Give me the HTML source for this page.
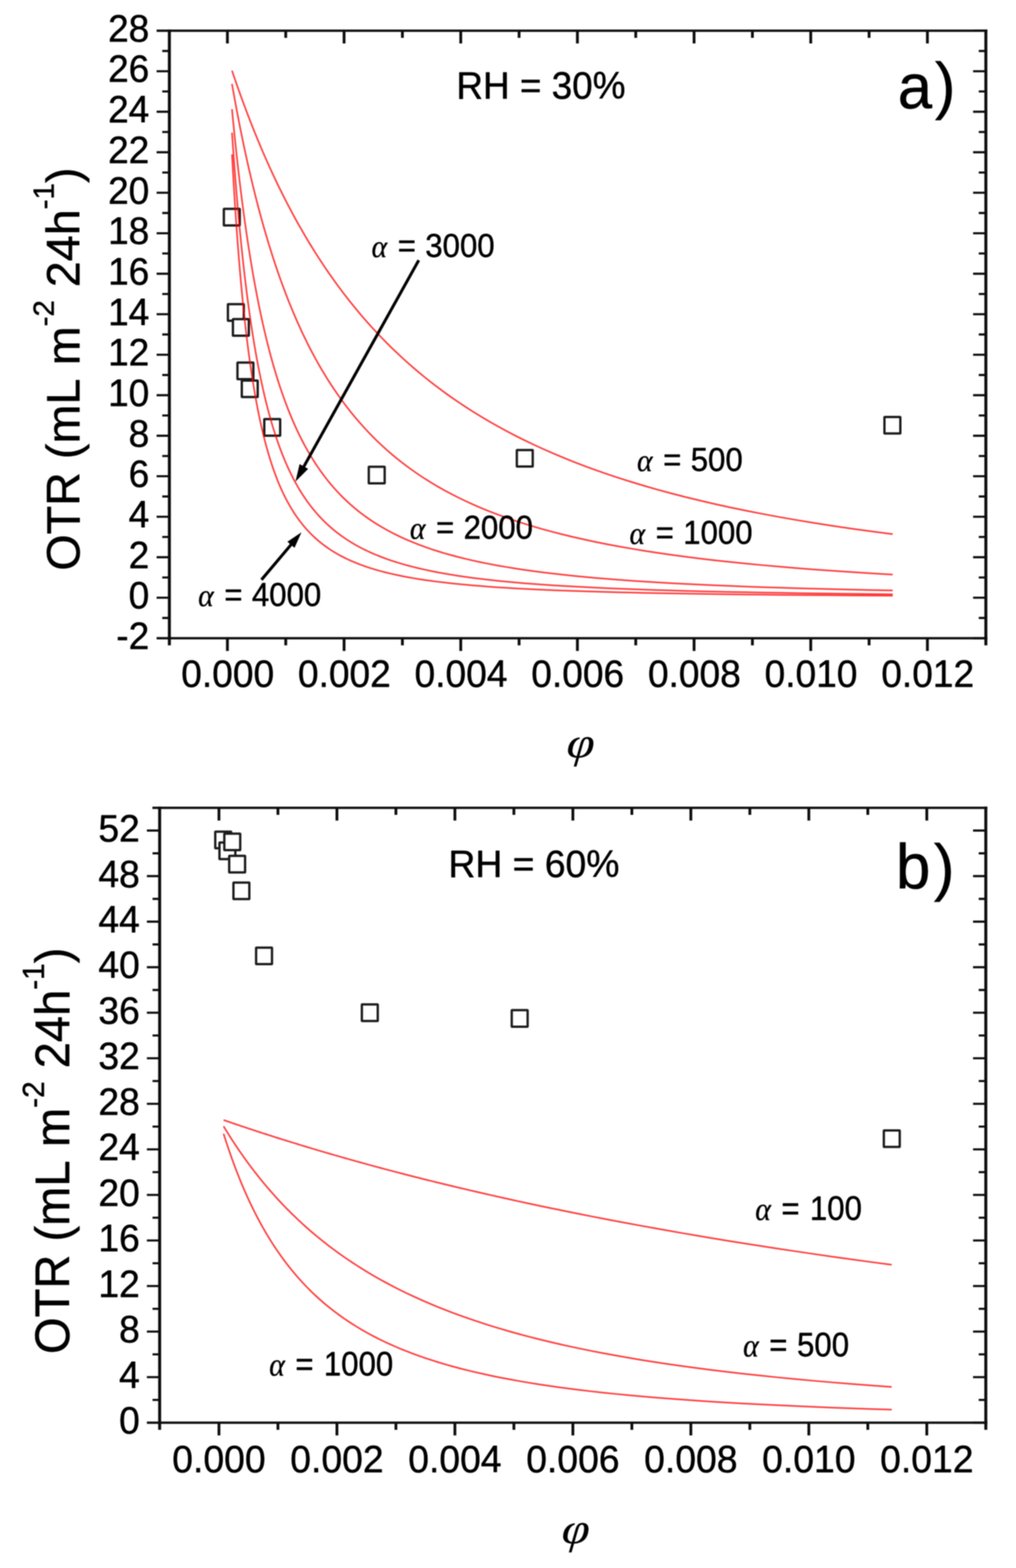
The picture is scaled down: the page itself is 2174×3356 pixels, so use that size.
<!DOCTYPE html>
<html lang="en"><head><meta charset="utf-8"><title>OTR vs filler volume fraction</title>
<style>
html,body{margin:0;padding:0;background:#fff}
body{width:2174px;height:3356px;overflow:hidden}
svg{display:block;filter:blur(1.0px)}
text{font-family:"Liberation Sans",sans-serif;fill:#000;stroke:#000;stroke-width:0.9px;stroke-linejoin:round}
.al{font-family:"Liberation Serif","DejaVu Serif",serif;font-style:italic;stroke-width:0.6px}
.phi{font-family:"Liberation Serif","DejaVu Serif",serif;font-style:italic;font-size:100px;text-anchor:middle;stroke-width:0.3px}
</style></head><body>
<svg width="2174" height="3356" viewBox="0 0 2174 3356">
<rect width="100%" height="100%" fill="#fff"/>
<g fill="#fff" stroke="#1c1c1c" stroke-width="5.0">
<rect x="479" y="447" width="34.0" height="35.4" rx="1"/>
<rect x="487.7" y="651" width="34.0" height="35.4" rx="1"/>
<rect x="498.4" y="683.1" width="34.0" height="35.4" rx="1"/>
<rect x="508.1" y="776" width="34.0" height="35.4" rx="1"/>
<rect x="517.4" y="814.4" width="34.0" height="35.4" rx="1"/>
<rect x="565.5" y="897.1" width="34.0" height="35.4" rx="1"/>
<rect x="789.1" y="999" width="34.0" height="35.4" rx="1"/>
<rect x="1105.9" y="963.2" width="34.0" height="35.4" rx="1"/>
<rect x="1892.5" y="892.4" width="34.0" height="35.4" rx="1"/>
<rect x="460.6" y="1780" width="34.0" height="35.4" rx="1"/>
<rect x="469.6" y="1803.3" width="34.0" height="35.4" rx="1"/>
<rect x="480" y="1784.2" width="34.0" height="35.4" rx="1"/>
<rect x="490.4" y="1831.8" width="34.0" height="35.4" rx="1"/>
<rect x="499.5" y="1888.9" width="34.0" height="35.4" rx="1"/>
<rect x="548" y="2028.2" width="34.0" height="35.4" rx="1"/>
<rect x="774.3" y="2149.8" width="34.0" height="35.4" rx="1"/>
<rect x="1095" y="2162.1" width="34.0" height="35.4" rx="1"/>
<rect x="1891.2" y="2419.4" width="34.0" height="35.4" rx="1"/>
</g>
<g fill="none" stroke="#ff0000" stroke-opacity="0.76" stroke-width="3.5" stroke-linejoin="round" style="filter:blur(0.6px)">
<polyline points="496.4,151.08 496.71,152 497.03,152.96 497.36,153.94 497.7,154.95 498.05,155.99 498.41,157.06 498.78,158.16 499.17,159.3 499.57,160.47 499.97,161.68 500.4,162.92 500.83,164.2 501.28,165.52 501.75,166.87 502.23,168.27 502.72,169.71 503.23,171.19 503.76,172.71 504.3,174.28 504.86,175.9 505.43,177.56 506.03,179.27 506.64,181.04 507.28,182.85 507.93,184.71 508.6,186.63 509.3,188.61 510.02,190.64 510.76,192.73 511.52,194.88 512.31,197.09 513.12,199.36 513.96,201.7 514.82,204.11 515.72,206.58 516.64,209.12 517.59,211.73 518.57,214.42 519.58,217.18 520.62,220.01 521.69,222.92 522.8,225.91 523.95,228.99 525.13,232.14 526.34,235.39 527.6,238.71 528.9,242.13 530.23,245.64 531.61,249.24 533.04,252.93 534.5,256.72 536.02,260.61 537.58,264.59 539.19,268.68 540.85,272.88 542.57,277.17 544.34,281.58 546.16,286.09 548.04,290.71 549.99,295.45 551.99,300.3 554.06,305.27 556.19,310.35 558.39,315.56 560.66,320.88 563,326.33 565.41,331.9 567.9,337.59 570.47,343.41 573.12,349.36 575.86,355.44 578.68,361.65 581.59,367.99 584.59,374.46 587.69,381.07 590.88,387.8 594.18,394.68 597.58,401.68 601.09,408.82 604.7,416.1 608.44,423.51 612.29,431.05 616.26,438.74 620.36,446.55 624.59,454.5 628.95,462.58 633.45,470.79 638.09,479.14 642.88,487.61 647.82,496.21 652.91,504.94 658.17,513.79 663.59,522.76 669.18,531.85 674.95,541.06 680.91,550.39 687.05,559.82 693.38,569.37 699.92,579.02 706.66,588.76 713.62,598.61 720.79,608.55 728.19,618.58 735.83,628.69 743.71,638.88 751.83,649.14 760.22,659.47 768.86,669.87 777.79,680.32 786.99,690.82 796.48,701.38 806.28,711.97 816.38,722.59 826.8,733.24 837.56,743.91 848.65,754.6 860.09,765.29 871.9,775.98 884.07,786.66 896.64,797.34 909.6,807.99 922.97,818.61 936.76,829.2 950.99,839.74 965.66,850.24 980.8,860.68 996.42,871.05 1012.54,881.36 1029.16,891.59 1046.31,901.74 1064,911.8 1082.25,921.76 1101.07,931.62 1120.5,941.37 1140.53,951 1161.2,960.52 1182.52,969.91 1204.52,979.18 1227.21,988.3 1250.61,997.29 1274.76,1006.14 1299.67,1014.84 1325.37,1023.38 1351.88,1031.77 1379.23,1040 1407.44,1048.08 1436.55,1055.98 1466.57,1063.73 1497.54,1071.3 1529.49,1078.7 1562.46,1085.94 1596.46,1093 1631.54,1099.89 1667.73,1106.6 1705.06,1113.15 1743.57,1119.52 1783.29,1125.71 1824.28,1131.74 1866.56,1137.59 1910.17,1143.27"/>
<polyline points="496.4,179.67 496.71,181.44 497.03,183.27 497.36,185.14 497.7,187.07 498.05,189.06 498.41,191.11 498.78,193.21 499.17,195.37 499.57,197.6 499.97,199.89 500.4,202.24 500.83,204.66 501.28,207.15 501.75,209.7 502.23,212.33 502.72,215.03 503.23,217.81 503.76,220.66 504.3,223.59 504.86,226.6 505.43,229.69 506.03,232.87 506.64,236.13 507.28,239.47 507.93,242.91 508.6,246.44 509.3,250.06 510.02,253.77 510.76,257.58 511.52,261.49 512.31,265.5 513.12,269.61 513.96,273.83 514.82,278.15 515.72,282.58 516.64,287.12 517.59,291.76 518.57,296.52 519.58,301.4 520.62,306.39 521.69,311.5 522.8,316.73 523.95,322.08 525.13,327.56 526.34,333.15 527.6,338.88 528.9,344.72 530.23,350.7 531.61,356.81 533.04,363.04 534.5,369.41 536.02,375.91 537.58,382.54 539.19,389.31 540.85,396.21 542.57,403.24 544.34,410.41 546.16,417.72 548.04,425.15 549.99,432.73 551.99,440.44 554.06,448.28 556.19,456.25 558.39,464.36 560.66,472.6 563,480.97 565.41,489.47 567.9,498.09 570.47,506.84 573.12,515.72 575.86,524.71 578.68,533.83 581.59,543.06 584.59,552.41 587.69,561.86 590.88,571.42 594.18,581.09 597.58,590.86 601.09,600.72 604.7,610.67 608.44,620.71 612.29,630.83 616.26,641.03 620.36,651.31 624.59,661.65 628.95,672.05 633.45,682.51 638.09,693.02 642.88,703.57 647.82,714.16 652.91,724.78 658.17,735.43 663.59,746.1 669.18,756.78 674.95,767.46 680.91,778.14 687.05,788.82 693.38,799.48 699.92,810.11 706.66,820.72 713.62,831.29 720.79,841.82 728.19,852.29 735.83,862.71 743.71,873.06 751.83,883.34 760.22,893.55 768.86,903.67 777.79,913.7 786.99,923.63 796.48,933.45 806.28,943.17 816.38,952.77 826.8,962.26 837.56,971.61 848.65,980.84 860.09,989.93 871.9,998.88 884.07,1007.68 896.64,1016.34 909.6,1024.84 922.97,1033.19 936.76,1041.38 950.99,1049.41 965.66,1057.28 980.8,1064.98 996.42,1072.51 1012.54,1079.87 1029.16,1087.06 1046.31,1094.08 1064,1100.93 1082.25,1107.6 1101.07,1114.1 1120.5,1120.43 1140.53,1126.58 1161.2,1132.57 1182.52,1138.38 1204.52,1144.02 1227.21,1149.5 1250.61,1154.8 1274.76,1159.95 1299.67,1164.92 1325.37,1169.74 1351.88,1174.4 1379.23,1178.9 1407.44,1183.25 1436.55,1187.45 1466.57,1191.5 1497.54,1195.4 1529.49,1199.16 1562.46,1202.79 1596.46,1206.27 1631.54,1209.63 1667.73,1212.85 1705.06,1215.95 1743.57,1218.92 1783.29,1221.78 1824.28,1224.52 1866.56,1227.15 1910.17,1229.67"/>
<polyline points="496.4,233.67 496.71,236.96 497.03,240.33 497.36,243.78 497.7,247.33 498.05,250.98 498.41,254.72 498.78,258.55 499.17,262.49 499.57,266.52 499.97,270.66 500.4,274.9 500.83,279.24 501.28,283.7 501.75,288.26 502.23,292.94 502.72,297.73 503.23,302.63 503.76,307.66 504.3,312.79 504.86,318.05 505.43,323.43 506.03,328.94 506.64,334.57 507.28,340.32 507.93,346.2 508.6,352.21 509.3,358.35 510.02,364.61 510.76,371.01 511.52,377.55 512.31,384.21 513.12,391.01 513.96,397.94 514.82,405.01 515.72,412.21 516.64,419.55 517.59,427.02 518.57,434.62 519.58,442.36 520.62,450.24 521.69,458.24 522.8,466.38 523.95,474.65 525.13,483.05 526.34,491.58 527.6,500.24 528.9,509.02 530.23,517.92 531.61,526.94 533.04,536.09 534.5,545.34 536.02,554.71 537.58,564.19 539.19,573.78 540.85,583.47 542.57,593.26 544.34,603.14 546.16,613.11 548.04,623.17 549.99,633.31 551.99,643.52 554.06,653.81 556.19,664.16 558.39,674.58 560.66,685.04 563,695.56 565.41,706.12 567.9,716.72 570.47,727.34 573.12,737.99 575.86,748.66 578.68,759.34 581.59,770.02 584.59,780.69 587.69,791.36 590.88,802.01 594.18,812.64 597.58,823.23 601.09,833.79 604.7,844.3 608.44,854.75 612.29,865.15 616.26,875.48 620.36,885.74 624.59,895.92 628.95,906.01 633.45,916.01 638.09,925.92 642.88,935.71 647.82,945.4 652.91,954.97 658.17,964.41 663.59,973.73 669.18,982.92 674.95,991.97 680.91,1000.88 687.05,1009.65 693.38,1018.26 699.92,1026.73 706.66,1035.03 713.62,1043.18 720.79,1051.17 728.19,1058.99 735.83,1066.64 743.71,1074.13 751.83,1081.45 760.22,1088.59 768.86,1095.57 777.79,1102.37 786.99,1109 796.48,1115.45 806.28,1121.74 816.38,1127.85 826.8,1133.79 837.56,1139.56 848.65,1145.16 860.09,1150.59 871.9,1155.86 884.07,1160.96 896.64,1165.89 909.6,1170.67 922.97,1175.29 936.76,1179.76 950.99,1184.07 965.66,1188.23 980.8,1192.24 996.42,1196.11 1012.54,1199.84 1029.16,1203.43 1046.31,1206.88 1064,1210.21 1082.25,1213.4 1101.07,1216.47 1120.5,1219.42 1140.53,1222.25 1161.2,1224.96 1182.52,1227.56 1204.52,1230.06 1227.21,1232.44 1250.61,1234.73 1274.76,1236.92 1299.67,1239.01 1325.37,1241.02 1351.88,1242.93 1379.23,1244.76 1407.44,1246.5 1436.55,1248.17 1466.57,1249.76 1497.54,1251.27 1529.49,1252.72 1562.46,1254.09 1596.46,1255.41 1631.54,1256.65 1667.73,1257.84 1705.06,1258.98 1743.57,1260.05 1783.29,1261.08 1824.28,1262.05 1866.56,1262.97 1910.17,1263.85"/>
<polyline points="496.4,283.8 496.71,288.36 497.03,293.04 497.36,297.84 497.7,302.74 498.05,307.77 498.41,312.91 498.78,318.17 499.17,323.55 499.57,329.06 499.97,334.69 500.4,340.44 500.83,346.33 501.28,352.34 501.75,358.48 502.23,364.75 502.72,371.15 503.23,377.69 503.76,384.35 504.3,391.15 504.86,398.09 505.43,405.16 506.03,412.36 506.64,419.7 507.28,427.17 507.93,434.78 508.6,442.53 509.3,450.4 510.02,458.41 510.76,466.55 511.52,474.82 512.31,483.23 513.12,491.76 513.96,500.41 514.82,509.2 515.72,518.1 516.64,527.13 517.59,536.27 518.57,545.53 519.58,554.9 520.62,564.39 521.69,573.97 522.8,583.66 523.95,593.45 525.13,603.34 526.34,613.31 527.6,623.37 528.9,633.51 530.23,643.72 531.61,654.01 533.04,664.36 534.5,674.78 536.02,685.25 537.58,695.76 539.19,706.32 540.85,716.92 542.57,727.54 544.34,738.19 546.16,748.86 548.04,759.53 549.99,770.21 551.99,780.89 554.06,791.55 556.19,802.2 558.39,812.82 560.66,823.42 563,833.97 565.41,844.48 567.9,854.93 570.47,865.33 573.12,875.66 575.86,885.91 578.68,896.09 581.59,906.18 584.59,916.17 587.69,926.07 590.88,935.86 594.18,945.55 597.58,955.11 601.09,964.55 604.7,973.87 608.44,983.05 612.29,992.1 616.26,1001.01 620.36,1009.77 624.59,1018.38 628.95,1026.84 633.45,1035.14 638.09,1043.28 642.88,1051.26 647.82,1059.08 652.91,1066.73 658.17,1074.21 663.59,1081.53 669.18,1088.67 674.95,1095.64 680.91,1102.44 687.05,1109.06 693.38,1115.51 699.92,1121.79 706.66,1127.9 713.62,1133.83 720.79,1139.6 728.19,1145.2 735.83,1150.62 743.71,1155.89 751.83,1160.98 760.22,1165.92 768.86,1170.69 777.79,1175.31 786.99,1179.77 796.48,1184.08 806.28,1188.24 816.38,1192.25 826.8,1196.11 837.56,1199.84 848.65,1203.43 860.09,1206.88 871.9,1210.2 884.07,1213.39 896.64,1216.46 909.6,1219.4 922.97,1222.23 936.76,1224.94 950.99,1227.54 965.66,1230.03 980.8,1232.42 996.42,1234.71 1012.54,1236.9 1029.16,1238.99 1046.31,1240.99 1064,1242.9 1082.25,1244.73 1101.07,1246.47 1120.5,1248.14 1140.53,1249.73 1161.2,1251.24 1182.52,1252.68 1204.52,1254.06 1227.21,1255.37 1250.61,1256.62 1274.76,1257.81 1299.67,1258.94 1325.37,1260.02 1351.88,1261.04 1379.23,1262.02 1407.44,1262.94 1436.55,1263.82 1466.57,1264.65 1497.54,1265.45 1529.49,1266.2 1562.46,1266.91 1596.46,1267.59 1631.54,1268.23 1667.73,1268.84 1705.06,1269.42 1743.57,1269.97 1783.29,1270.48 1824.28,1270.98 1866.56,1271.44 1910.17,1271.88"/>
<polyline points="496.4,330.4 496.71,336.06 497.03,341.85 497.36,347.76 497.7,353.8 498.05,359.98 498.41,366.28 498.78,372.71 499.17,379.28 499.57,385.98 499.97,392.81 500.4,399.78 500.83,406.88 501.28,414.12 501.75,421.49 502.23,428.99 502.72,436.63 503.23,444.41 503.76,452.32 504.3,460.36 504.86,468.53 505.43,476.83 506.03,485.27 506.64,493.83 507.28,502.51 507.93,511.33 508.6,520.26 509.3,529.31 510.02,538.49 510.76,547.77 511.52,557.17 512.31,566.68 513.12,576.29 513.96,586 514.82,595.82 515.72,605.72 516.64,615.71 517.59,625.79 518.57,635.95 519.58,646.18 520.62,656.49 521.69,666.86 522.8,677.28 523.95,687.76 525.13,698.29 526.34,708.86 527.6,719.46 528.9,730.09 530.23,740.74 531.61,751.41 533.04,762.09 534.5,772.77 536.02,783.44 537.58,794.1 539.19,804.74 540.85,815.36 542.57,825.94 544.34,836.48 546.16,846.98 548.04,857.42 549.99,867.8 551.99,878.11 554.06,888.34 556.19,898.5 558.39,908.57 560.66,918.54 563,928.41 565.41,938.18 567.9,947.83 570.47,957.37 573.12,966.78 575.86,976.06 578.68,985.21 581.59,994.23 584.59,1003.1 587.69,1011.82 590.88,1020.4 594.18,1028.82 597.58,1037.08 601.09,1045.18 604.7,1053.12 608.44,1060.9 612.29,1068.51 616.26,1075.95 620.36,1083.22 624.59,1090.32 628.95,1097.25 633.45,1104.01 638.09,1110.59 642.88,1117 647.82,1123.24 652.91,1129.3 658.17,1135.2 663.59,1140.92 669.18,1146.48 674.95,1151.86 680.91,1157.09 687.05,1162.14 693.38,1167.04 699.92,1171.78 706.66,1176.36 713.62,1180.78 720.79,1185.05 728.19,1189.17 735.83,1193.15 743.71,1196.98 751.83,1200.68 760.22,1204.23 768.86,1207.65 777.79,1210.94 786.99,1214.1 796.48,1217.14 806.28,1220.06 816.38,1222.86 826.8,1225.54 837.56,1228.12 848.65,1230.58 860.09,1232.95 871.9,1235.21 884.07,1237.37 896.64,1239.44 909.6,1241.42 922.97,1243.31 936.76,1245.12 950.99,1246.85 965.66,1248.49 980.8,1250.06 996.42,1251.56 1012.54,1252.99 1029.16,1254.35 1046.31,1255.65 1064,1256.88 1082.25,1258.06 1101.07,1259.18 1120.5,1260.24 1140.53,1261.25 1161.2,1262.22 1182.52,1263.13 1204.52,1264 1227.21,1264.82 1250.61,1265.61 1274.76,1266.35 1299.67,1267.06 1325.37,1267.72 1351.88,1268.36 1379.23,1268.96 1407.44,1269.53 1436.55,1270.07 1466.57,1270.58 1497.54,1271.07 1529.49,1271.53 1562.46,1271.96 1596.46,1272.38 1631.54,1272.76 1667.73,1273.13 1705.06,1273.48 1743.57,1273.81 1783.29,1274.12 1824.28,1274.42 1866.56,1274.7 1910.17,1274.96"/>
<polyline points="478.41,2397.2 478.72,2397.31 479.04,2397.42 479.38,2397.53 479.72,2397.65 480.08,2397.78 480.44,2397.9 480.82,2398.03 481.21,2398.17 481.61,2398.31 482.02,2398.45 482.45,2398.6 482.89,2398.75 483.35,2398.91 483.82,2399.07 484.3,2399.24 484.8,2399.41 485.32,2399.59 485.85,2399.77 486.4,2399.96 486.96,2400.15 487.55,2400.35 488.15,2400.56 488.77,2400.77 489.41,2400.99 490.07,2401.22 490.75,2401.45 491.45,2401.7 492.18,2401.94 492.93,2402.2 493.7,2402.46 494.5,2402.74 495.32,2403.02 496.17,2403.31 497.04,2403.61 497.94,2403.91 498.87,2404.23 499.83,2404.56 500.82,2404.9 501.85,2405.24 502.9,2405.6 503.99,2405.97 505.11,2406.35 506.27,2406.74 507.46,2407.15 508.69,2407.56 509.96,2407.99 511.27,2408.44 512.62,2408.89 514.02,2409.36 515.46,2409.85 516.94,2410.34 518.47,2410.86 520.05,2411.39 521.68,2411.93 523.36,2412.5 525.09,2413.08 526.88,2413.67 528.73,2414.29 530.63,2414.92 532.6,2415.57 534.62,2416.25 536.71,2416.94 538.87,2417.65 541.09,2418.38 543.39,2419.14 545.75,2419.92 548.19,2420.72 550.71,2421.54 553.31,2422.39 555.99,2423.27 558.76,2424.17 561.61,2425.1 564.55,2426.05 567.59,2427.03 570.72,2428.04 573.95,2429.08 577.28,2430.15 580.72,2431.25 584.27,2432.38 587.93,2433.55 591.7,2434.75 595.6,2435.98 599.62,2437.25 603.76,2438.55 608.03,2439.89 612.44,2441.27 616.99,2442.69 621.69,2444.14 626.53,2445.64 631.52,2447.18 636.68,2448.76 641.99,2450.38 647.47,2452.05 653.13,2453.77 658.97,2455.53 664.99,2457.34 671.2,2459.19 677.6,2461.1 684.21,2463.06 691.03,2465.07 698.06,2467.13 705.32,2469.24 712.8,2471.41 720.53,2473.64 728.49,2475.92 736.71,2478.27 745.19,2480.67 753.93,2483.13 762.95,2485.65 772.26,2488.23 781.86,2490.88 791.76,2493.59 801.98,2496.36 812.52,2499.21 823.39,2502.12 834.61,2505.09 846.18,2508.14 858.12,2511.25 870.43,2514.44 883.14,2517.7 896.24,2521.02 909.76,2524.43 923.71,2527.9 938.09,2531.45 952.94,2535.07 968.25,2538.77 984.04,2542.54 1000.34,2546.39 1017.15,2550.32 1034.49,2554.32 1052.38,2558.4 1070.83,2562.55 1089.87,2566.78 1109.51,2571.09 1129.77,2575.47 1150.67,2579.93 1172.23,2584.47 1194.47,2589.08 1217.41,2593.76 1241.08,2598.52 1265.5,2603.35 1290.69,2608.25 1316.68,2613.22 1343.49,2618.27 1371.14,2623.38 1399.67,2628.56 1429.1,2633.8 1459.46,2639.11 1490.78,2644.48 1523.09,2649.91 1556.42,2655.4 1590.81,2660.94 1626.28,2666.54 1662.87,2672.19 1700.62,2677.89 1739.57,2683.63 1779.74,2689.42 1821.18,2695.25 1863.93,2701.11 1908.04,2707.01"/>
<polyline points="478.41,2410.52 478.72,2411.03 479.04,2411.57 479.38,2412.12 479.72,2412.69 480.08,2413.27 480.44,2413.88 480.82,2414.5 481.21,2415.14 481.61,2415.8 482.02,2416.47 482.45,2417.17 482.89,2417.89 483.35,2418.63 483.82,2419.4 484.3,2420.18 484.8,2420.99 485.32,2421.82 485.85,2422.68 486.4,2423.56 486.96,2424.47 487.55,2425.41 488.15,2426.37 488.77,2427.36 489.41,2428.38 490.07,2429.43 490.75,2430.51 491.45,2431.62 492.18,2432.76 492.93,2433.94 493.7,2435.15 494.5,2436.39 495.32,2437.67 496.17,2438.98 497.04,2440.34 497.94,2441.73 498.87,2443.15 499.83,2444.62 500.82,2446.13 501.85,2447.68 502.9,2449.28 503.99,2450.92 505.11,2452.6 506.27,2454.33 507.46,2456.1 508.69,2457.93 509.96,2459.8 511.27,2461.72 512.62,2463.69 514.02,2465.72 515.46,2467.79 516.94,2469.92 518.47,2472.11 520.05,2474.35 521.68,2476.65 523.36,2479.01 525.09,2481.43 526.88,2483.9 528.73,2486.44 530.63,2489.04 532.6,2491.7 534.62,2494.43 536.71,2497.23 538.87,2500.08 541.09,2503.01 543.39,2506.01 545.75,2509.07 548.19,2512.2 550.71,2515.4 553.31,2518.68 555.99,2522.02 558.76,2525.44 561.61,2528.93 564.55,2532.5 567.59,2536.14 570.72,2539.85 573.95,2543.64 577.28,2547.5 580.72,2551.44 584.27,2555.46 587.93,2559.55 591.7,2563.72 595.6,2567.96 599.62,2572.28 603.76,2576.68 608.03,2581.15 612.44,2585.69 616.99,2590.31 621.69,2595 626.53,2599.77 631.52,2604.6 636.68,2609.51 641.99,2614.49 647.47,2619.54 653.13,2624.65 658.97,2629.83 664.99,2635.07 671.2,2640.38 677.6,2645.75 684.21,2651.17 691.03,2656.65 698.06,2662.19 705.32,2667.78 712.8,2673.42 720.53,2679.1 728.49,2684.84 736.71,2690.61 745.19,2696.42 753.93,2702.26 762.95,2708.14 772.26,2714.05 781.86,2719.98 791.76,2725.94 801.98,2731.91 812.52,2737.9 823.39,2743.9 834.61,2749.91 846.18,2755.93 858.12,2761.94 870.43,2767.95 883.14,2773.95 896.24,2779.94 909.76,2785.91 923.71,2791.86 938.09,2797.8 952.94,2803.7 968.25,2809.57 984.04,2815.4 1000.34,2821.2 1017.15,2826.95 1034.49,2832.66 1052.38,2838.32 1070.83,2843.92 1089.87,2849.46 1109.51,2854.95 1129.77,2860.37 1150.67,2865.72 1172.23,2871 1194.47,2876.21 1217.41,2881.34 1241.08,2886.4 1265.5,2891.37 1290.69,2896.26 1316.68,2901.07 1343.49,2905.79 1371.14,2910.42 1399.67,2914.96 1429.1,2919.4 1459.46,2923.76 1490.78,2928.02 1523.09,2932.18 1556.42,2936.25 1590.81,2940.22 1626.28,2944.09 1662.87,2947.87 1700.62,2951.55 1739.57,2955.13 1779.74,2958.62 1821.18,2962 1863.93,2965.29 1908.04,2968.49"/>
<polyline points="478.41,2426.59 478.72,2427.59 479.04,2428.61 479.38,2429.67 479.72,2430.76 480.08,2431.87 480.44,2433.02 480.82,2434.21 481.21,2435.42 481.61,2436.68 482.02,2437.96 482.45,2439.29 482.89,2440.65 483.35,2442.04 483.82,2443.48 484.3,2444.96 484.8,2446.48 485.32,2448.04 485.85,2449.64 486.4,2451.29 486.96,2452.98 487.55,2454.72 488.15,2456.51 488.77,2458.34 489.41,2460.22 490.07,2462.16 490.75,2464.14 491.45,2466.18 492.18,2468.27 492.93,2470.41 493.7,2472.61 494.5,2474.86 495.32,2477.17 496.17,2479.54 497.04,2481.97 497.94,2484.46 498.87,2487.02 499.83,2489.63 500.82,2492.31 501.85,2495.05 502.9,2497.86 503.99,2500.73 505.11,2503.67 506.27,2506.68 507.46,2509.76 508.69,2512.91 509.96,2516.12 511.27,2519.41 512.62,2522.78 514.02,2526.21 515.46,2529.72 516.94,2533.3 518.47,2536.95 520.05,2540.68 521.68,2544.49 523.36,2548.37 525.09,2552.32 526.88,2556.35 528.73,2560.46 530.63,2564.65 532.6,2568.9 534.62,2573.24 536.71,2577.65 538.87,2582.13 541.09,2586.69 543.39,2591.33 545.75,2596.03 548.19,2600.81 550.71,2605.66 553.31,2610.58 555.99,2615.58 558.76,2620.63 561.61,2625.76 564.55,2630.95 567.59,2636.21 570.72,2641.52 573.95,2646.9 577.28,2652.34 580.72,2657.83 584.27,2663.38 587.93,2668.97 591.7,2674.62 595.6,2680.31 599.62,2686.05 603.76,2691.83 608.03,2697.64 612.44,2703.49 616.99,2709.37 621.69,2715.28 626.53,2721.22 631.52,2727.17 636.68,2733.15 641.99,2739.13 647.47,2745.13 653.13,2751.14 658.97,2757.15 664.99,2763.15 671.2,2769.16 677.6,2775.15 684.21,2781.13 691.03,2787.1 698.06,2793.04 705.32,2798.96 712.8,2804.85 720.53,2810.71 728.49,2816.53 736.71,2822.32 745.19,2828.05 753.93,2833.75 762.95,2839.38 772.26,2844.97 781.86,2850.5 791.76,2855.96 801.98,2861.36 812.52,2866.69 823.39,2871.96 834.61,2877.14 846.18,2882.26 858.12,2887.29 870.43,2892.24 883.14,2897.11 896.24,2901.89 909.76,2906.59 923.71,2911.19 938.09,2915.71 952.94,2920.13 968.25,2924.46 984.04,2928.7 1000.34,2932.84 1017.15,2936.88 1034.49,2940.83 1052.38,2944.68 1070.83,2948.43 1089.87,2952.09 1109.51,2955.65 1129.77,2959.11 1150.67,2962.47 1172.23,2965.74 1194.47,2968.91 1217.41,2971.99 1241.08,2974.98 1265.5,2977.87 1290.69,2980.67 1316.68,2983.38 1343.49,2986 1371.14,2988.53 1399.67,2990.97 1429.1,2993.33 1459.46,2995.61 1490.78,2997.81 1523.09,2999.92 1556.42,3001.96 1590.81,3003.92 1626.28,3005.81 1662.87,3007.62 1700.62,3009.36 1739.57,3011.04 1779.74,3012.64 1821.18,3014.18 1863.93,3015.66 1908.04,3017.08"/>
</g>
<g fill="none" stroke="#0d0d0d">
<path d="M335.1 65.8H2112.7M335.1 1366H2112.7" stroke-width="5.0"/>
<path d="M362.4 63.3V1381.2M2109.5 63.3V1381.2" stroke-width="6.4"/>
<path d="M486.6 65.8v27.3M486.6 1366v27.3M736.24 65.8v27.3M736.24 1366v27.3M985.88 65.8v27.3M985.88 1366v27.3M1235.52 65.8v27.3M1235.52 1366v27.3M1485.16 65.8v27.3M1485.16 1366v27.3M1734.8 65.8v27.3M1734.8 1366v27.3M1984.44 65.8v27.3M1984.44 1366v27.3M611.42 65.8v15.2M611.42 1366v15.2M861.06 65.8v15.2M861.06 1366v15.2M1110.7 65.8v15.2M1110.7 1366v15.2M1360.34 65.8v15.2M1360.34 1366v15.2M1609.98 65.8v15.2M1609.98 1366v15.2M1859.62 65.8v15.2M1859.62 1366v15.2" stroke-width="6.0"/>
<path d="M2109.5 1366h-27.3M362.4 1279.32h-27.3M2109.5 1279.32h-27.3M362.4 1192.64h-27.3M2109.5 1192.64h-27.3M362.4 1105.96h-27.3M2109.5 1105.96h-27.3M362.4 1019.28h-27.3M2109.5 1019.28h-27.3M362.4 932.6h-27.3M2109.5 932.6h-27.3M362.4 845.92h-27.3M2109.5 845.92h-27.3M362.4 759.24h-27.3M2109.5 759.24h-27.3M362.4 672.56h-27.3M2109.5 672.56h-27.3M362.4 585.88h-27.3M2109.5 585.88h-27.3M362.4 499.2h-27.3M2109.5 499.2h-27.3M362.4 412.52h-27.3M2109.5 412.52h-27.3M362.4 325.84h-27.3M2109.5 325.84h-27.3M362.4 239.16h-27.3M2109.5 239.16h-27.3M362.4 152.48h-27.3M2109.5 152.48h-27.3M2109.5 65.8h-27.3M362.4 1322.66h-15.2M2109.5 1322.66h-15.2M362.4 1235.98h-15.2M2109.5 1235.98h-15.2M362.4 1149.3h-15.2M2109.5 1149.3h-15.2M362.4 1062.62h-15.2M2109.5 1062.62h-15.2M362.4 975.94h-15.2M2109.5 975.94h-15.2M362.4 889.26h-15.2M2109.5 889.26h-15.2M362.4 802.58h-15.2M2109.5 802.58h-15.2M362.4 715.9h-15.2M2109.5 715.9h-15.2M362.4 629.22h-15.2M2109.5 629.22h-15.2M362.4 542.54h-15.2M2109.5 542.54h-15.2M362.4 455.86h-15.2M2109.5 455.86h-15.2M362.4 369.18h-15.2M2109.5 369.18h-15.2M362.4 282.5h-15.2M2109.5 282.5h-15.2M362.4 195.82h-15.2M2109.5 195.82h-15.2M362.4 109.14h-15.2M2109.5 109.14h-15.2" stroke-width="4.6"/>
<path d="M326.1 1728.9H2112.6M314.3 3045H2112.6" stroke-width="5.0"/>
<path d="M341.6 1726.4V3060.2M2109.4 1726.4V3060.2" stroke-width="6.4"/>
<path d="M468.5 1728.9v27.3M468.5 3045v27.3M720.94 1728.9v27.3M720.94 3045v27.3M973.38 1728.9v27.3M973.38 3045v27.3M1225.82 1728.9v27.3M1225.82 3045v27.3M1478.26 1728.9v27.3M1478.26 3045v27.3M1730.7 1728.9v27.3M1730.7 3045v27.3M1983.14 1728.9v27.3M1983.14 3045v27.3M594.72 1728.9v15.2M594.72 3045v15.2M847.16 1728.9v15.2M847.16 3045v15.2M1099.6 1728.9v15.2M1099.6 3045v15.2M1352.04 1728.9v15.2M1352.04 3045v15.2M1604.48 1728.9v15.2M1604.48 3045v15.2M1856.92 1728.9v15.2M1856.92 3045v15.2" stroke-width="6.0"/>
<path d="M2109.4 3045h-27.3M341.6 2947.51h-27.3M2109.4 2947.51h-27.3M341.6 2850.02h-27.3M2109.4 2850.02h-27.3M341.6 2752.52h-27.3M2109.4 2752.52h-27.3M341.6 2655.03h-27.3M2109.4 2655.03h-27.3M341.6 2557.54h-27.3M2109.4 2557.54h-27.3M341.6 2460.05h-27.3M2109.4 2460.05h-27.3M341.6 2362.56h-27.3M2109.4 2362.56h-27.3M341.6 2265.06h-27.3M2109.4 2265.06h-27.3M341.6 2167.57h-27.3M2109.4 2167.57h-27.3M341.6 2070.08h-27.3M2109.4 2070.08h-27.3M341.6 1972.59h-27.3M2109.4 1972.59h-27.3M341.6 1875.1h-27.3M2109.4 1875.1h-27.3M341.6 1777.6h-27.3M2109.4 1777.6h-27.3M341.6 2996.25h-15.2M2109.4 2996.25h-15.2M341.6 2898.76h-15.2M2109.4 2898.76h-15.2M341.6 2801.27h-15.2M2109.4 2801.27h-15.2M341.6 2703.78h-15.2M2109.4 2703.78h-15.2M341.6 2606.29h-15.2M2109.4 2606.29h-15.2M341.6 2508.79h-15.2M2109.4 2508.79h-15.2M341.6 2411.3h-15.2M2109.4 2411.3h-15.2M341.6 2313.81h-15.2M2109.4 2313.81h-15.2M341.6 2216.32h-15.2M2109.4 2216.32h-15.2M341.6 2118.83h-15.2M2109.4 2118.83h-15.2M341.6 2021.33h-15.2M2109.4 2021.33h-15.2M341.6 1923.84h-15.2M2109.4 1923.84h-15.2M341.6 1826.35h-15.2M2109.4 1826.35h-15.2" stroke-width="4.6"/>
</g>
<g fill="#000" font-size="80">
<text transform="translate(319.5 1389) scale(0.993 1.022)" text-anchor="end">-2</text>
<text transform="translate(319.5 1302.32) scale(0.993 1.022)" text-anchor="end">0</text>
<text transform="translate(319.5 1215.64) scale(0.993 1.022)" text-anchor="end">2</text>
<text transform="translate(319.5 1128.96) scale(0.993 1.022)" text-anchor="end">4</text>
<text transform="translate(319.5 1042.28) scale(0.993 1.022)" text-anchor="end">6</text>
<text transform="translate(319.5 955.6) scale(0.993 1.022)" text-anchor="end">8</text>
<text transform="translate(319.5 868.92) scale(0.993 1.022)" text-anchor="end">10</text>
<text transform="translate(319.5 782.24) scale(0.993 1.022)" text-anchor="end">12</text>
<text transform="translate(319.5 695.56) scale(0.993 1.022)" text-anchor="end">14</text>
<text transform="translate(319.5 608.88) scale(0.993 1.022)" text-anchor="end">16</text>
<text transform="translate(319.5 522.2) scale(0.993 1.022)" text-anchor="end">18</text>
<text transform="translate(319.5 435.52) scale(0.993 1.022)" text-anchor="end">20</text>
<text transform="translate(319.5 348.84) scale(0.993 1.022)" text-anchor="end">22</text>
<text transform="translate(319.5 262.16) scale(0.993 1.022)" text-anchor="end">24</text>
<text transform="translate(319.5 175.48) scale(0.993 1.022)" text-anchor="end">26</text>
<text transform="translate(319.5 88.8) scale(0.993 1.022)" text-anchor="end">28</text>
<text transform="translate(487.2 1470.3) scale(0.993 1.022)" text-anchor="middle">0.000</text>
<text transform="translate(736.84 1470.3) scale(0.993 1.022)" text-anchor="middle">0.002</text>
<text transform="translate(986.48 1470.3) scale(0.993 1.022)" text-anchor="middle">0.004</text>
<text transform="translate(1236.12 1470.3) scale(0.993 1.022)" text-anchor="middle">0.006</text>
<text transform="translate(1485.76 1470.3) scale(0.993 1.022)" text-anchor="middle">0.008</text>
<text transform="translate(1735.4 1470.3) scale(0.993 1.022)" text-anchor="middle">0.010</text>
<text transform="translate(1985.04 1470.3) scale(0.993 1.022)" text-anchor="middle">0.012</text>
<text transform="translate(299.2 3068.4) scale(0.998 1.022)" text-anchor="end">0</text>
<text transform="translate(299.2 2970.91) scale(0.998 1.022)" text-anchor="end">4</text>
<text transform="translate(299.2 2873.42) scale(0.998 1.022)" text-anchor="end">8</text>
<text transform="translate(299.2 2775.92) scale(0.998 1.022)" text-anchor="end">12</text>
<text transform="translate(299.2 2678.43) scale(0.998 1.022)" text-anchor="end">16</text>
<text transform="translate(299.2 2580.94) scale(0.998 1.022)" text-anchor="end">20</text>
<text transform="translate(299.2 2483.45) scale(0.998 1.022)" text-anchor="end">24</text>
<text transform="translate(299.2 2385.96) scale(0.998 1.022)" text-anchor="end">28</text>
<text transform="translate(299.2 2288.46) scale(0.998 1.022)" text-anchor="end">32</text>
<text transform="translate(299.2 2190.97) scale(0.998 1.022)" text-anchor="end">36</text>
<text transform="translate(299.2 2093.48) scale(0.998 1.022)" text-anchor="end">40</text>
<text transform="translate(299.2 1995.99) scale(0.998 1.022)" text-anchor="end">44</text>
<text transform="translate(299.2 1898.5) scale(0.998 1.022)" text-anchor="end">48</text>
<text transform="translate(299.2 1801) scale(0.998 1.022)" text-anchor="end">52</text>
<text transform="translate(468.5 3151) scale(0.998 1.022)" text-anchor="middle">0.000</text>
<text transform="translate(720.94 3151) scale(0.998 1.022)" text-anchor="middle">0.002</text>
<text transform="translate(973.38 3151) scale(0.998 1.022)" text-anchor="middle">0.004</text>
<text transform="translate(1225.82 3151) scale(0.998 1.022)" text-anchor="middle">0.006</text>
<text transform="translate(1478.26 3151) scale(0.998 1.022)" text-anchor="middle">0.008</text>
<text transform="translate(1730.7 3151) scale(0.998 1.022)" text-anchor="middle">0.010</text>
<text transform="translate(1983.14 3151) scale(0.998 1.022)" text-anchor="middle">0.012</text>
<text transform="translate(169.5 1221.5) rotate(-90) scale(1.0 0.995)" font-size="100">OTR (mL <tspan dx="4.5">m</tspan><tspan font-size="63" dy="-55">-2</tspan><tspan dy="55"> 24h</tspan><tspan font-size="63" dy="-55">-1</tspan><tspan dy="55">)</tspan></text>
<text transform="translate(147.5 2898) rotate(-90) scale(1.008 1.03)" font-size="100">OTR (mL <tspan dx="4.5">m</tspan><tspan font-size="63" dy="-52">-2</tspan><tspan dy="52"> 24h</tspan><tspan font-size="63" dy="-52">-1</tspan><tspan dy="52">)</tspan></text>
<text transform="translate(976.5 210.5) scale(0.993 1.022)" font-size="79.5">RH = 30%</text>
<text transform="translate(959.5 1877) scale(1.004 1.022)" font-size="79.5">RH = 60%</text>
<text transform="translate(1921 231.5) scale(0.993 1.022)" font-size="133">a<tspan dx="6" dy="-2.5">)</tspan></text>
<text transform="translate(1917 1900.5) scale(0.998 1.022)" font-size="133">b<tspan dx="7.5" dy="1">)</tspan></text>
<text transform="translate(1240.5 1621) scale(1.07 0.92) skewX(-4)" class="phi">φ</text>
<text transform="translate(1230 3302.5) scale(1.07 0.92) skewX(-4)" class="phi">φ</text>
<text transform="translate(795 549.5) scale(1.0 1.05)" font-size="66.7"><tspan class="al" font-size="63.7">α</tspan> <tspan dx="4.03">=</tspan> <tspan dx="1.5">3000</tspan></text>
<text transform="translate(1363 1007.5) scale(1.0 1.05)" font-size="66.7"><tspan class="al" font-size="63.7">α</tspan> <tspan dx="4.03">=</tspan> <tspan dx="1.5">500</tspan></text>
<text transform="translate(1347 1163.5) scale(1.0 1.05)" font-size="66.7"><tspan class="al" font-size="63.7">α</tspan> <tspan dx="4.03">=</tspan> <tspan dx="1.5">1000</tspan></text>
<text transform="translate(877 1152.5) scale(1.0 1.05)" font-size="66.7"><tspan class="al" font-size="63.7">α</tspan> <tspan dx="4.03">=</tspan> <tspan dx="1.5">2000</tspan></text>
<text transform="translate(424 1296.5) scale(1.0 1.05)" font-size="66.7"><tspan class="al" font-size="63.7">α</tspan> <tspan dx="4.03">=</tspan> <tspan dx="1.5">4000</tspan></text>
<text transform="translate(1616 2611) scale(1.0 1.085)" font-size="66.7"><tspan class="al" font-size="64.1">α</tspan> <tspan dx="3.82">=</tspan> <tspan dx="3.5">100</tspan></text>
<text transform="translate(1590 2903) scale(1.0 1.085)" font-size="66.7"><tspan class="al" font-size="64.1">α</tspan> <tspan dx="3.82">=</tspan> <tspan dx="2.0">500</tspan></text>
<text transform="translate(576 2944) scale(1.0 1.085)" font-size="66.7"><tspan class="al" font-size="64.1">α</tspan> <tspan dx="3.82">=</tspan> <tspan dx="3.5">1000</tspan></text>
</g>
<line x1="896" y1="557" x2="649.23" y2="1000.22" stroke="#000" stroke-width="6.3"/><polygon points="632.2,1030.8 641.03,993.37 659.37,1003.58" fill="#000"/>
<line x1="559.5" y1="1240.9" x2="623.85" y2="1164.45" stroke="#000" stroke-width="6.3"/><polygon points="645.1,1139.2 630.21,1172.42 614.91,1159.54" fill="#000"/>
</svg>
</body></html>
